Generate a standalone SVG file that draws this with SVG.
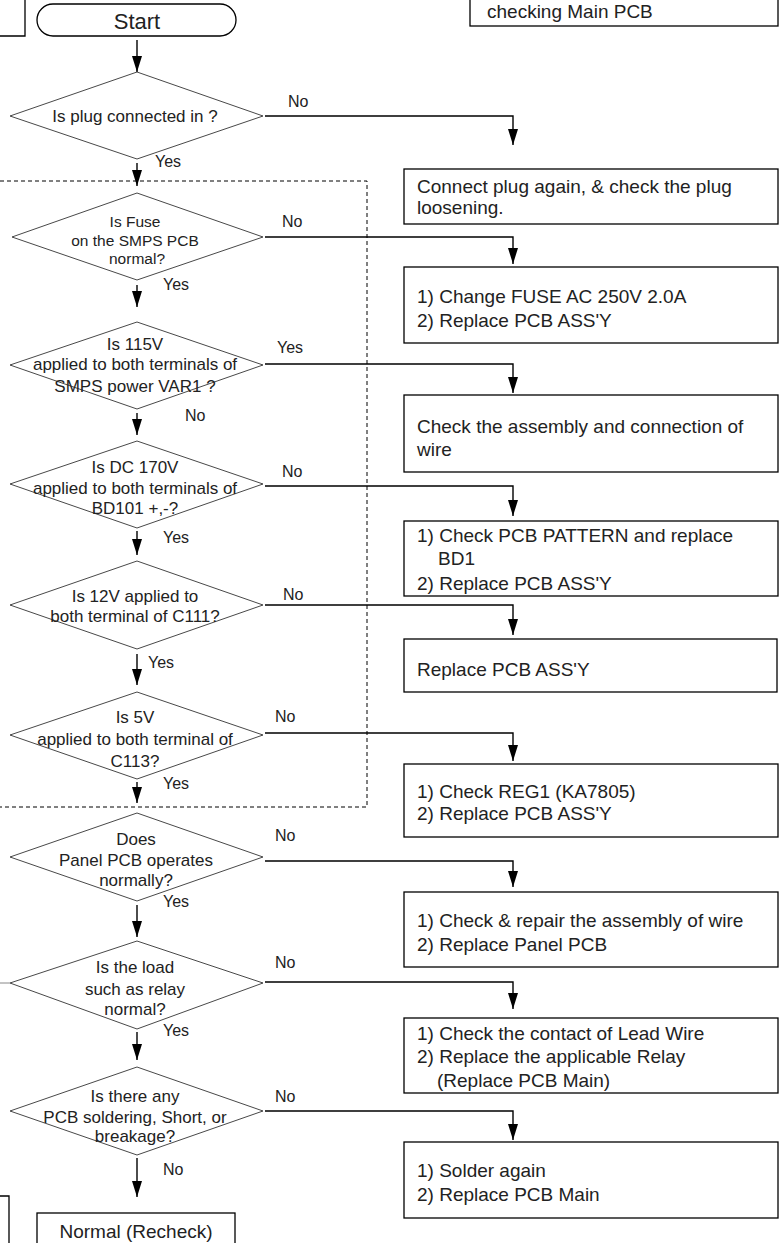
<svg xmlns="http://www.w3.org/2000/svg" width="779" height="1243" viewBox="0 0 779 1243">
<defs>
<marker id="ah" markerUnits="userSpaceOnUse" markerWidth="16" markerHeight="10" refX="16" refY="5" orient="auto">
<path d="M0,0 L16,5 L0,10 z" fill="#000"/>
</marker>
<style>
.box{fill:#fff;stroke:#000;stroke-width:1.3}
.dia{fill:#fff;stroke:#333;stroke-width:0.9}
.t{font-family:"Liberation Sans",Arial,sans-serif;fill:#222}
.dt{font-family:"Liberation Sans",Arial,sans-serif;fill:#222;font-size:17px;text-anchor:middle}
.dts{font-family:"Liberation Sans",Arial,sans-serif;fill:#222;font-size:15.5px;text-anchor:middle}
.bt{font-family:"Liberation Sans",Arial,sans-serif;fill:#222;font-size:19px}
.lbl{font-family:"Liberation Sans",Arial,sans-serif;fill:#222;font-size:16px}
.ca{fill:none;stroke:#000;stroke-width:1.4;marker-end:url(#ah)}
</style>
</defs>
<rect width="779" height="1243" fill="#fff"/>

<g id="dashed-group">
<path d="M0,181 H367 V807 H0" fill="none" stroke="#000" stroke-width="1" stroke-dasharray="4,3"/>
</g>

<g id="connectors">
<path class="ca" d="M137,40 V72"/>
<path class="ca" d="M137,163 V186"/>
<path class="ca" d="M137,285 V307"/>
<path class="ca" d="M137,413 V435"/>
<path class="ca" d="M137,531 V555"/>
<path class="ca" d="M137,654 V685"/>
<path class="ca" d="M137,782 V803"/>
<path class="ca" d="M137,905 V937"/>
<path class="ca" d="M137,1032 V1060"/>
<path class="ca" d="M137,1158 V1197"/>
<path class="ca" d="M265,116 H513 V145"/>
<path class="ca" d="M265,237 H513 V264"/>
<path class="ca" d="M265,364 H513 V393"/>
<path class="ca" d="M265,486 H513 V516"/>
<path class="ca" d="M265,605 H513 V635"/>
<path class="ca" d="M265,733 H513 V761"/>
<path class="ca" d="M265,861 H513 V887"/>
<path class="ca" d="M265,982 H513 V1009"/>
<path class="ca" d="M265,1111 H513 V1140"/>
<path d="M0,983 H10" stroke="#888" stroke-width="1"/>
</g>

<g id="labels">
<text class="lbl" x="288" y="107">No</text>
<text class="lbl" x="155" y="167">Yes</text>
<text class="lbl" x="282" y="227">No</text>
<text class="lbl" x="163" y="290">Yes</text>
<text class="lbl" x="277" y="353">Yes</text>
<text class="lbl" x="185" y="421">No</text>
<text class="lbl" x="282" y="477">No</text>
<text class="lbl" x="163" y="543">Yes</text>
<text class="lbl" x="283" y="600">No</text>
<text class="lbl" x="148" y="668">Yes</text>
<text class="lbl" x="275" y="722">No</text>
<text class="lbl" x="163" y="789">Yes</text>
<text class="lbl" x="275" y="841">No</text>
<text class="lbl" x="163" y="907">Yes</text>
<text class="lbl" x="275" y="968">No</text>
<text class="lbl" x="163" y="1036">Yes</text>
<text class="lbl" x="275" y="1102">No</text>
<text class="lbl" x="163" y="1175">No</text>
</g>

<g id="topleft-box">
<path class="box" fill="none" d="M-2,36 H25 V-2"/>
</g>
<g id="topright-box">
<rect class="box" x="470" y="-2" width="308" height="28"/>
<text class="bt" x="487" y="18">checking Main PCB</text>
</g>
<g id="bottomleft-box">
<path class="box" d="M-2,1196 H9 V1245"/>
</g>

<g id="start">
<rect class="box" x="37" y="4" width="199" height="32" rx="16"/>
<text class="t" x="137" y="29" font-size="22" text-anchor="middle">Start</text>
</g>

<g id="d1">
<polygon class="dia" points="137,72 263,116 137,159 10,116"/>
<text class="dt" x="135" y="122">Is plug connected in ?</text>
</g>
<g id="d2">
<polygon class="dia" points="137,193 263,237 137,280 12,237"/>
<text class="dts"><tspan x="135" y="227">Is Fuse</tspan><tspan x="135" y="246">on the SMPS PCB</tspan><tspan x="137" y="264">normal?</tspan></text>
</g>
<g id="d3">
<polygon class="dia" points="137,322 263,365 137,409 10,365"/>
<text class="dt"><tspan x="135" y="350">Is 115V</tspan><tspan x="135" y="370">applied to both terminals of</tspan><tspan x="135" y="392">SMPS power VAR1 ?</tspan></text>
</g>
<g id="d4">
<polygon class="dia" points="137,441 263,484 137,528 10,484"/>
<text class="dt"><tspan x="135" y="473">Is DC 170V</tspan><tspan x="135" y="494">applied to both terminals of</tspan><tspan x="135" y="514">BD101 +,-?</tspan></text>
</g>
<g id="d5">
<polygon class="dia" points="137,561 263,605 137,649 10,605"/>
<text class="dt"><tspan x="135" y="602">Is 12V applied to</tspan><tspan x="135" y="622">both terminal of C111?</tspan></text>
</g>
<g id="d6">
<polygon class="dia" points="137,692 263,735 137,779 10,735"/>
<text class="dt"><tspan x="135" y="723">Is 5V</tspan><tspan x="135" y="745">applied to both terminal of</tspan><tspan x="135" y="767">C113?</tspan></text>
</g>
<g id="d7">
<polygon class="dia" points="137,813 263,857 137,901 10,857"/>
<text class="dt"><tspan x="136" y="845">Does</tspan><tspan x="136" y="866">Panel PCB operates</tspan><tspan x="136" y="886">normally?</tspan></text>
</g>
<g id="d8">
<polygon class="dia" points="137,941 263,983 137,1029 10,983"/>
<text class="dt"><tspan x="135" y="973">Is the load</tspan><tspan x="135" y="995">such as relay</tspan><tspan x="135" y="1015">normal?</tspan></text>
</g>
<g id="d9">
<polygon class="dia" points="137,1067 263,1111 137,1155 10,1111"/>
<text class="dt"><tspan x="135" y="1102">Is there any</tspan><tspan x="135" y="1123">PCB soldering, Short, or</tspan><tspan x="135" y="1142">breakage?</tspan></text>
</g>

<g id="normal">
<rect class="box" x="37" y="1213" width="198" height="34"/>
<text class="t" x="136" y="1238" font-size="19" text-anchor="middle">Normal (Recheck)</text>
</g>

<g id="b1">
<rect class="box" x="404" y="169" width="374" height="55"/>
<text class="bt"><tspan x="417" y="193">Connect plug again, &amp; check the plug</tspan><tspan x="417" y="214">loosening.</tspan></text>
</g>
<g id="b2">
<rect class="box" x="404" y="267" width="374" height="76"/>
<text class="bt"><tspan x="417" y="303">1) Change FUSE AC 250V 2.0A</tspan><tspan x="417" y="327">2) Replace PCB ASS'Y</tspan></text>
</g>
<g id="b3">
<rect class="box" x="404" y="395" width="374" height="77"/>
<text class="bt"><tspan x="417" y="433">Check the assembly and connection of</tspan><tspan x="417" y="456">wire</tspan></text>
</g>
<g id="b4">
<rect class="box" x="404" y="521" width="374" height="75"/>
<text class="bt"><tspan x="417" y="542">1) Check PCB PATTERN and replace</tspan><tspan x="438" y="565">BD1</tspan><tspan x="417" y="590">2) Replace PCB ASS'Y</tspan></text>
</g>
<g id="b5">
<rect class="box" x="404" y="639" width="373" height="53"/>
<text class="bt" x="417" y="676">Replace PCB ASS'Y</text>
</g>
<g id="b6">
<rect class="box" x="404" y="764" width="374" height="73"/>
<text class="bt"><tspan x="417" y="798">1) Check REG1 (KA7805)</tspan><tspan x="417" y="820">2) Replace PCB ASS'Y</tspan></text>
</g>
<g id="b7">
<rect class="box" x="404" y="892" width="374" height="75"/>
<text class="bt"><tspan x="417" y="927">1) Check &amp; repair the assembly of wire</tspan><tspan x="417" y="951">2) Replace Panel PCB</tspan></text>
</g>
<g id="b8">
<rect class="box" x="404" y="1018" width="374" height="75"/>
<text class="bt"><tspan x="417" y="1040">1) Check the contact of Lead Wire</tspan><tspan x="417" y="1063">2) Replace the applicable Relay</tspan><tspan x="437" y="1087">(Replace PCB Main)</tspan></text>
</g>
<g id="b9">
<rect class="box" x="404" y="1142" width="374" height="76"/>
<text class="bt"><tspan x="417" y="1177">1) Solder again</tspan><tspan x="417" y="1201">2) Replace PCB Main</tspan></text>
</g>
</svg>
